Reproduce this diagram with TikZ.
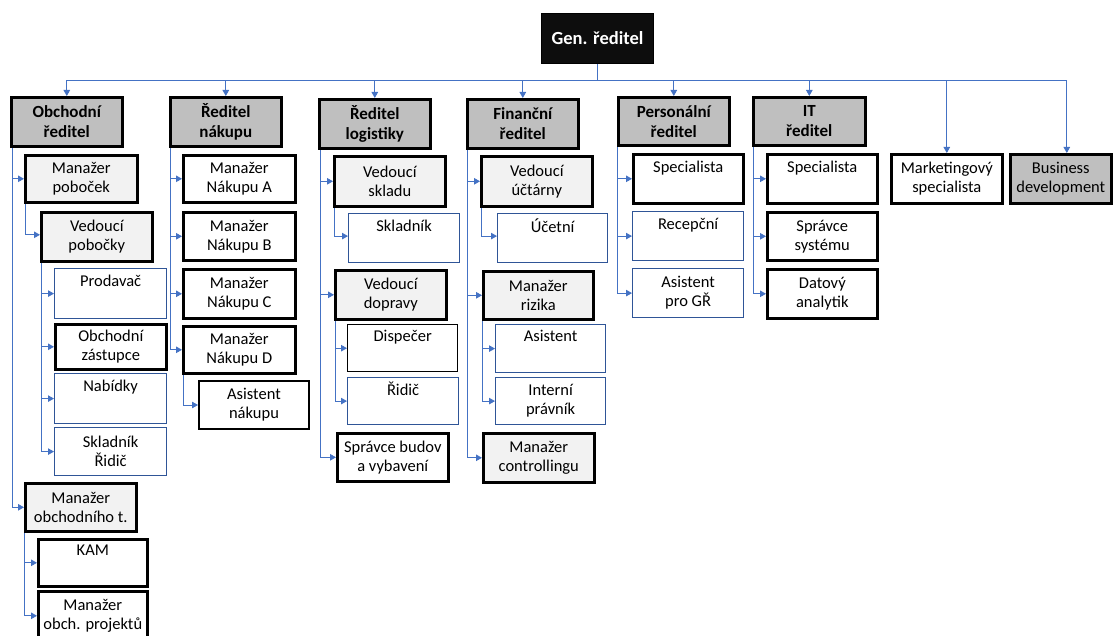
\documentclass[tikz,border=0pt]{standalone}
\usepackage{fontspec}
\setmainfont{Carlito}
\usetikzlibrary{arrows.meta}

\definecolor{dirgray}{RGB}{191,191,191}
\definecolor{mgrgray}{RGB}{242,242,242}
\definecolor{lineblue}{RGB}{68,114,196}
\definecolor{boxblue}{RGB}{47,85,151}

% connectors go on a layer behind the boxes
\pgfdeclarelayer{back}
\pgfsetlayers{back,main}

\tikzset{
  unit/.style={rectangle, align=center, inner sep=0pt, anchor=north west,
    font=\fontsize{16.5}{19}\selectfont},
  sz/.style 2 args={minimum width=#1, minimum height=#2},
  dirbox/.style={unit, fill=dirgray, draw=black, line width=2.6pt,
    font=\fontsize{17}{20}\selectfont\bfseries},
  mgrbox/.style={unit, fill=mgrgray, draw=black, line width=2.6pt},
  rolebox/.style={unit, fill=white, draw=black, line width=2.6pt},
  thinbox/.style={unit, fill=white, draw=black, line width=1.4pt},
  staffbox/.style={unit, fill=white, draw=boxblue, line width=1.2pt},
  topbox/.style={unit, fill=black!95, draw=black, line width=1pt, text=white,
    font=\fontsize{18.5}{21}\selectfont\bfseries},
  conn/.style={draw=lineblue, line width=0.9pt,
    -{Triangle[length=6pt,width=6.5pt]}},
  link/.style={draw=lineblue, line width=0.9pt}
}

\begin{document}
\begin{tikzpicture}[x=1pt,y=-1pt]
\useasboundingbox (0,0) rectangle (1113,636);
\clip (0,0) rectangle (1113,636);

% level of the horizontal bus under the general director
\coordinate (busline) at (0,80);

% top level
\node[topbox, sz={112}{50}] (gen) at (541,13) {Gen. ředitel};

% directors
\node[dirbox, sz={111}{49}] (obch) at (10,96) {Obchodní\\ředitel};
\node[dirbox, sz={111}{49}] (nak) at (169,96) {Ředitel\\nákupu};
\node[dirbox, sz={111}{49}] (log) at (318,98) {Ředitel\\logistiky};
\node[dirbox, sz={111}{49}] (fin) at (466,98) {Finanční\\ředitel};
\node[dirbox, sz={111}{48}] (pers) at (617,96) {Personální\\ředitel};
\node[dirbox, sz={112}{48}] (it) at (752,96) {IT\\ředitel};
\node[rolebox, sz={111}{49}] (mkt) at (890,153) {Marketingový\\specialista};
\node[dirbox, sz={101}{49}, font=\fontsize{16.5}{19}\selectfont] (bdev) at (1009,153) {Business\\development};

% sales
\node[mgrbox, sz={112}{47}] (mp) at (24,154) {Manažer\\poboček};
\node[mgrbox, sz={111}{49}] (vp) at (40,211) {Vedoucí\\pobočky};
\node[staffbox, sz={112}{50}] (prod) at (54,268) {Prodavač\\\strut};
\node[rolebox, sz={111}{45}] (oz) at (54,323) {Obchodní\\zástupce};
\node[staffbox, sz={112}{50}] (nab) at (54,373) {Nabídky\\\strut};
\node[staffbox, sz={112}{48}] (skl) at (54,427) {Skladník\\Řidič};
\node[mgrbox, sz={111}{48}] (mot) at (24,482) {Manažer\\obchodního t.};
\node[rolebox, sz={109}{47}] (kam) at (37,538) {KAM\\\strut};
\node[rolebox, sz={109}{49}] (mop) at (37,590) {Manažer\\obch. projektů};

% purchasing
\node[rolebox, sz={112}{47}] (na) at (182,154) {Manažer\\Nákupu A};
\node[rolebox, sz={112}{48}] (nb) at (182,211) {Manažer\\Nákupu B};
\node[rolebox, sz={112}{49}] (nc) at (182,268) {Manažer\\Nákupu C};
\node[rolebox, sz={112}{47}] (nd) at (182,325) {Manažer\\Nákupu D};
\node[thinbox, line width=2pt, sz={110}{48}] (asn) at (198,380) {Asistent\\nákupu};

% logistics
\node[mgrbox, sz={111}{50}] (vs) at (333,155) {Vedoucí\\skladu};
\node[staffbox, sz={111}{49}] (sk) at (348,213) {Skladník\\\strut};
\node[mgrbox, sz={111}{49}] (vd) at (334,269) {Vedoucí\\dopravy};
\node[thinbox, sz={110}{47}] (disp) at (347,324) {Dispečer\\\strut};
\node[staffbox, sz={111}{47}] (rid) at (347,377) {Řidič\\\strut};
\node[rolebox, sz={111}{48}] (sbv) at (336,432) {Správce budov\\a vybavení};

% finance
\node[mgrbox, sz={111}{50}] (vu) at (480,155) {Vedoucí\\účtárny};
\node[staffbox, sz={110}{49}] (uc) at (497,213) {Účetní\\\strut};
\node[mgrbox, sz={110}{48}] (mr) at (482,270) {Manažer\\rizika};
\node[staffbox, sz={110}{48}] (as) at (495,324) {Asistent\\\strut};
\node[staffbox, sz={110}{47}] (ip) at (495,377) {Interní\\právník};
\node[mgrbox, sz={111}{49}] (mc) at (482,432) {Manažer\\controllingu};

% HR
\node[rolebox, sz={110}{49}] (sp1) at (632,153) {Specialista\\\strut};
\node[staffbox, sz={111}{49}] (rec) at (632,211) {Recepční\\\strut};
\node[staffbox, sz={111}{49}] (agr) at (632,268) {Asistent\\pro GŘ};

% IT
\node[rolebox, sz={110}{49}] (sp2) at (766,153) {Specialista\\\strut};
\node[rolebox, sz={110}{48}] (ss) at (766,211) {Správce\\systému};
\node[rolebox, sz={110}{49}] (da) at (766,268) {Datový\\analytik};

\begin{pgfonlayer}{back}
  % general director to all direct reports
  \draw[link] (gen.south) -- (gen.south |- busline);
  \foreach \t in {obch,nak,log,fin,pers,it,mkt}
    \draw[conn] (gen.south |- busline) -| (\t.north);
  \draw[conn] (gen.south |- busline) -| ([xshift=6pt]bdev.north);

  % sales
  \draw[conn] ([xshift=2pt]obch.south west) |- (mp.west);
  \draw[conn] ([xshift=2pt]obch.south west) |- (mot.west);
  \draw[conn] ([xshift=1pt]mp.south west) |- ([yshift=2pt]vp.west);
  \foreach \t in {prod,oz,nab,skl}
    \draw[conn] ([xshift=1pt]vp.south west) |- (\t.west);
  \foreach \t in {kam,mop}
    \draw[conn] ([xshift=0pt]mot.south west) |- (\t.west);

  % purchasing
  \foreach \t in {na,nb,nc,nd}
    \draw[conn] ([xshift=1pt]nak.south west) |- (\t.west);
  \draw[conn] ([xshift=1pt]nd.south west) |- (asn.west);

  % logistics
  \foreach \t in {vs,vd,sbv}
    \draw[conn] ([xshift=2pt]log.south west) |- (\t.west);
  \draw[conn] ([xshift=1pt]vs.south west) |- ([yshift=2pt]sk.west);
  \foreach \t in {disp,rid}
    \draw[conn] ([xshift=1pt]vd.south west) |- (\t.west);

  % finance
  \foreach \t in {vu,mr,mc}
    \draw[conn] ([xshift=1pt]fin.south west) |- (\t.west);
  \draw[conn] ([xshift=1pt]vu.south west) |- ([yshift=2pt]uc.west);
  \foreach \t in {as,ip}
    \draw[conn] ([xshift=0pt]mr.south west) |- (\t.west);

  % HR and IT
  \foreach \t in {sp1,rec,agr}
    \draw[conn] ([xshift=0pt]pers.south west) |- (\t.west);
  \foreach \t in {sp2,ss,da}
    \draw[conn] ([xshift=1pt]it.south west) |- (\t.west);
\end{pgfonlayer}
\end{tikzpicture}
\end{document}
